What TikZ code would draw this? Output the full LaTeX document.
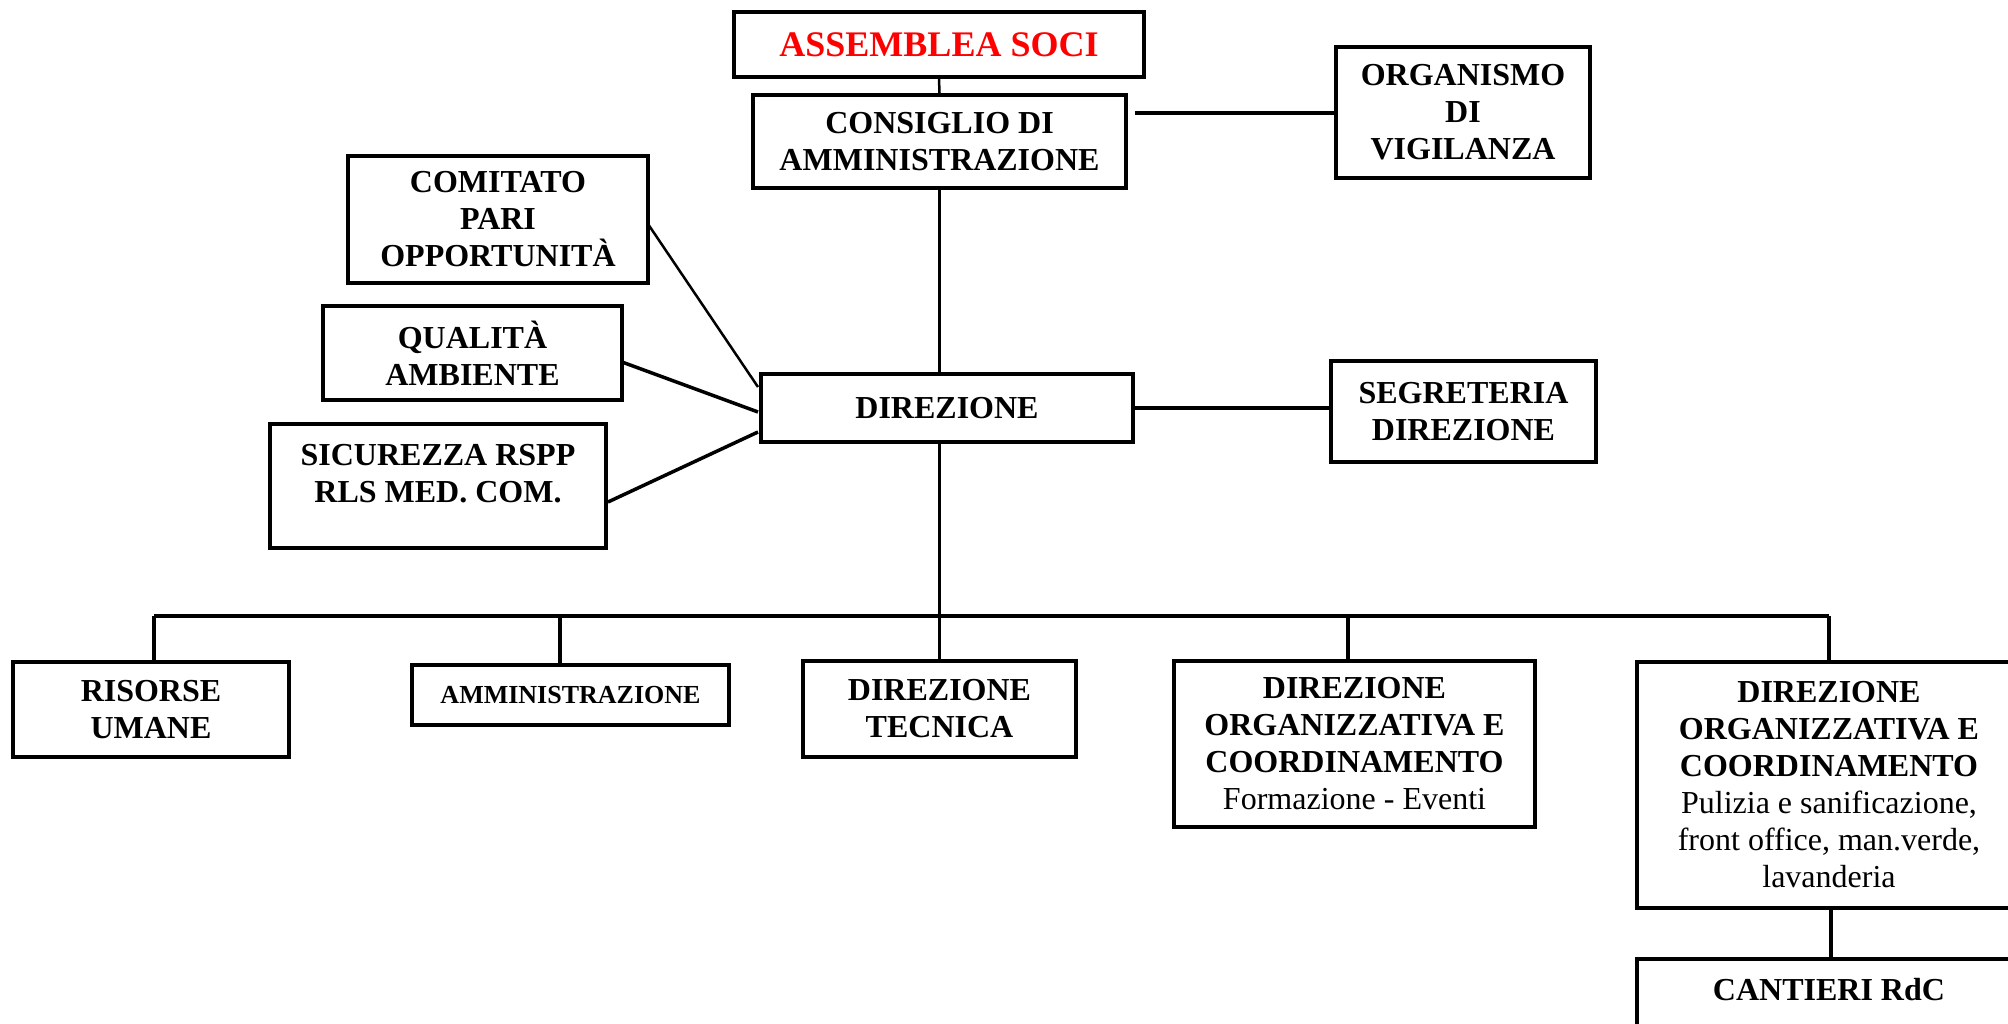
\documentclass[tikz,border=0pt]{standalone}
\usepackage{fontspec}
\setmainfont{Liberation Serif}
\begin{document}
\begin{tikzpicture}[x=1pt,y=-1pt,
  box/.style={draw,line width=3.5pt,inner sep=0pt,align=center,font=\bfseries\fontsize{32}{37}\selectfont},
  txt/.style={inner sep=0pt,align=center,font=\bfseries\fontsize{32}{37}\selectfont},
  conn/.style={line width=3.5pt},
  thin/.style={line width=2.5pt}]
\useasboundingbox (0,0) rectangle (2008,1023);
\fill[white] (0,0) rectangle (2008,1023);
% top
\node[box,minimum width=410pt,minimum height=65pt,text=red,font=\bfseries\fontsize{36}{40}\selectfont] (asm) at (939,44.5) {ASSEMBLEA SOCI};
\node[box,minimum width=373pt,minimum height=93pt] (cda) at (939.5,141.5) {CONSIGLIO DI\\AMMINISTRAZIONE};
\node[box,minimum width=254pt,minimum height=131pt] (odv) at (1463,112.5) {ORGANISMO\\DI\\VIGILANZA};
% direzione and staff
\node[box,minimum width=372pt,minimum height=68pt] (dir) at (947,408) {DIREZIONE};
\node[box,minimum width=265pt,minimum height=101pt] (seg) at (1463.5,411.5) {SEGRETERIA\\DIREZIONE};
\node[box,minimum width=300pt,minimum height=127pt] (cpo) at (498,219.5) {COMITATO\\PARI\\OPPORTUNIT\`A};
\node[box,minimum width=299pt,minimum height=94pt] (qa) at (472.5,353) {QUALIT\`A\\AMBIENTE};
\node[box,minimum width=336pt,minimum height=124pt] (sic) at (438,486) {};
\node[txt] (sictxt) at (438,474) {SICUREZZA RSPP\\RLS MED. COM.};
% bottom row
\node[box,minimum width=276pt,minimum height=95pt] (ru) at (151,709.5) {RISORSE\\UMANE};
\node[box,minimum width=317pt,minimum height=60pt,font=\bfseries\fontsize{26}{30}\selectfont] (amm) at (570.5,695) {AMMINISTRAZIONE};
\node[box,minimum width=273pt,minimum height=96pt] (dt) at (939.5,709) {DIREZIONE\\TECNICA};
\node[box,minimum width=361pt,minimum height=166pt] (doca) at (1354.5,744) {DIREZIONE\\ORGANIZZATIVA E\\COORDINAMENTO\\{\mdseries Formazione - Eventi}};
\node[box,minimum width=384pt,minimum height=246pt] (docb) at (1829,785) {DIREZIONE\\ORGANIZZATIVA E\\COORDINAMENTO\\{\mdseries Pulizia e sanificazione,}\\{\mdseries front office, man.verde,}\\{\mdseries lavanderia}};
\node[box,minimum width=384pt,minimum height=100pt] (cant) at (1829,1009) {};
\node[txt] (canttxt) at (1829,990) {CANTIERI RdC};
% connectors
\draw[thin] (asm.south) -- (cda.north);
\coordinate (codv) at (1135,113);
\draw[conn] (codv) -- (codv -| odv.west);
\draw[thin] (cda.south) -- (cda.south |- dir.north);
\draw[conn] (dir.east) -- (dir.east -| seg.west);
\coordinate (dirw1) at (758,387);
\coordinate (dirw2) at (758,412);
\coordinate (dirw3) at (758,432);
\coordinate (cpoe) at (648,224);
\coordinate (qae) at (622,362);
\coordinate (sice) at (608,502);
\draw[thin] (cpoe) -- (dirw1);
\draw[conn] (qae) -- (dirw2);
\draw[conn] (sice) -- (dirw3);
% bus
\draw[conn] (cda.south |- dir.south) -- (dt.north);
\draw[conn] (154,616) -- (1829,616);
\draw[conn] (154,616) -- (154,662);
\draw[conn] (560,616) -- (560,665);
\draw[conn] (1348,616) -- (1348,661);
\draw[conn] (1829,616) -- (1829,662);
\draw[conn] (1831,908) -- (1831,959);
\end{tikzpicture}
\end{document}
